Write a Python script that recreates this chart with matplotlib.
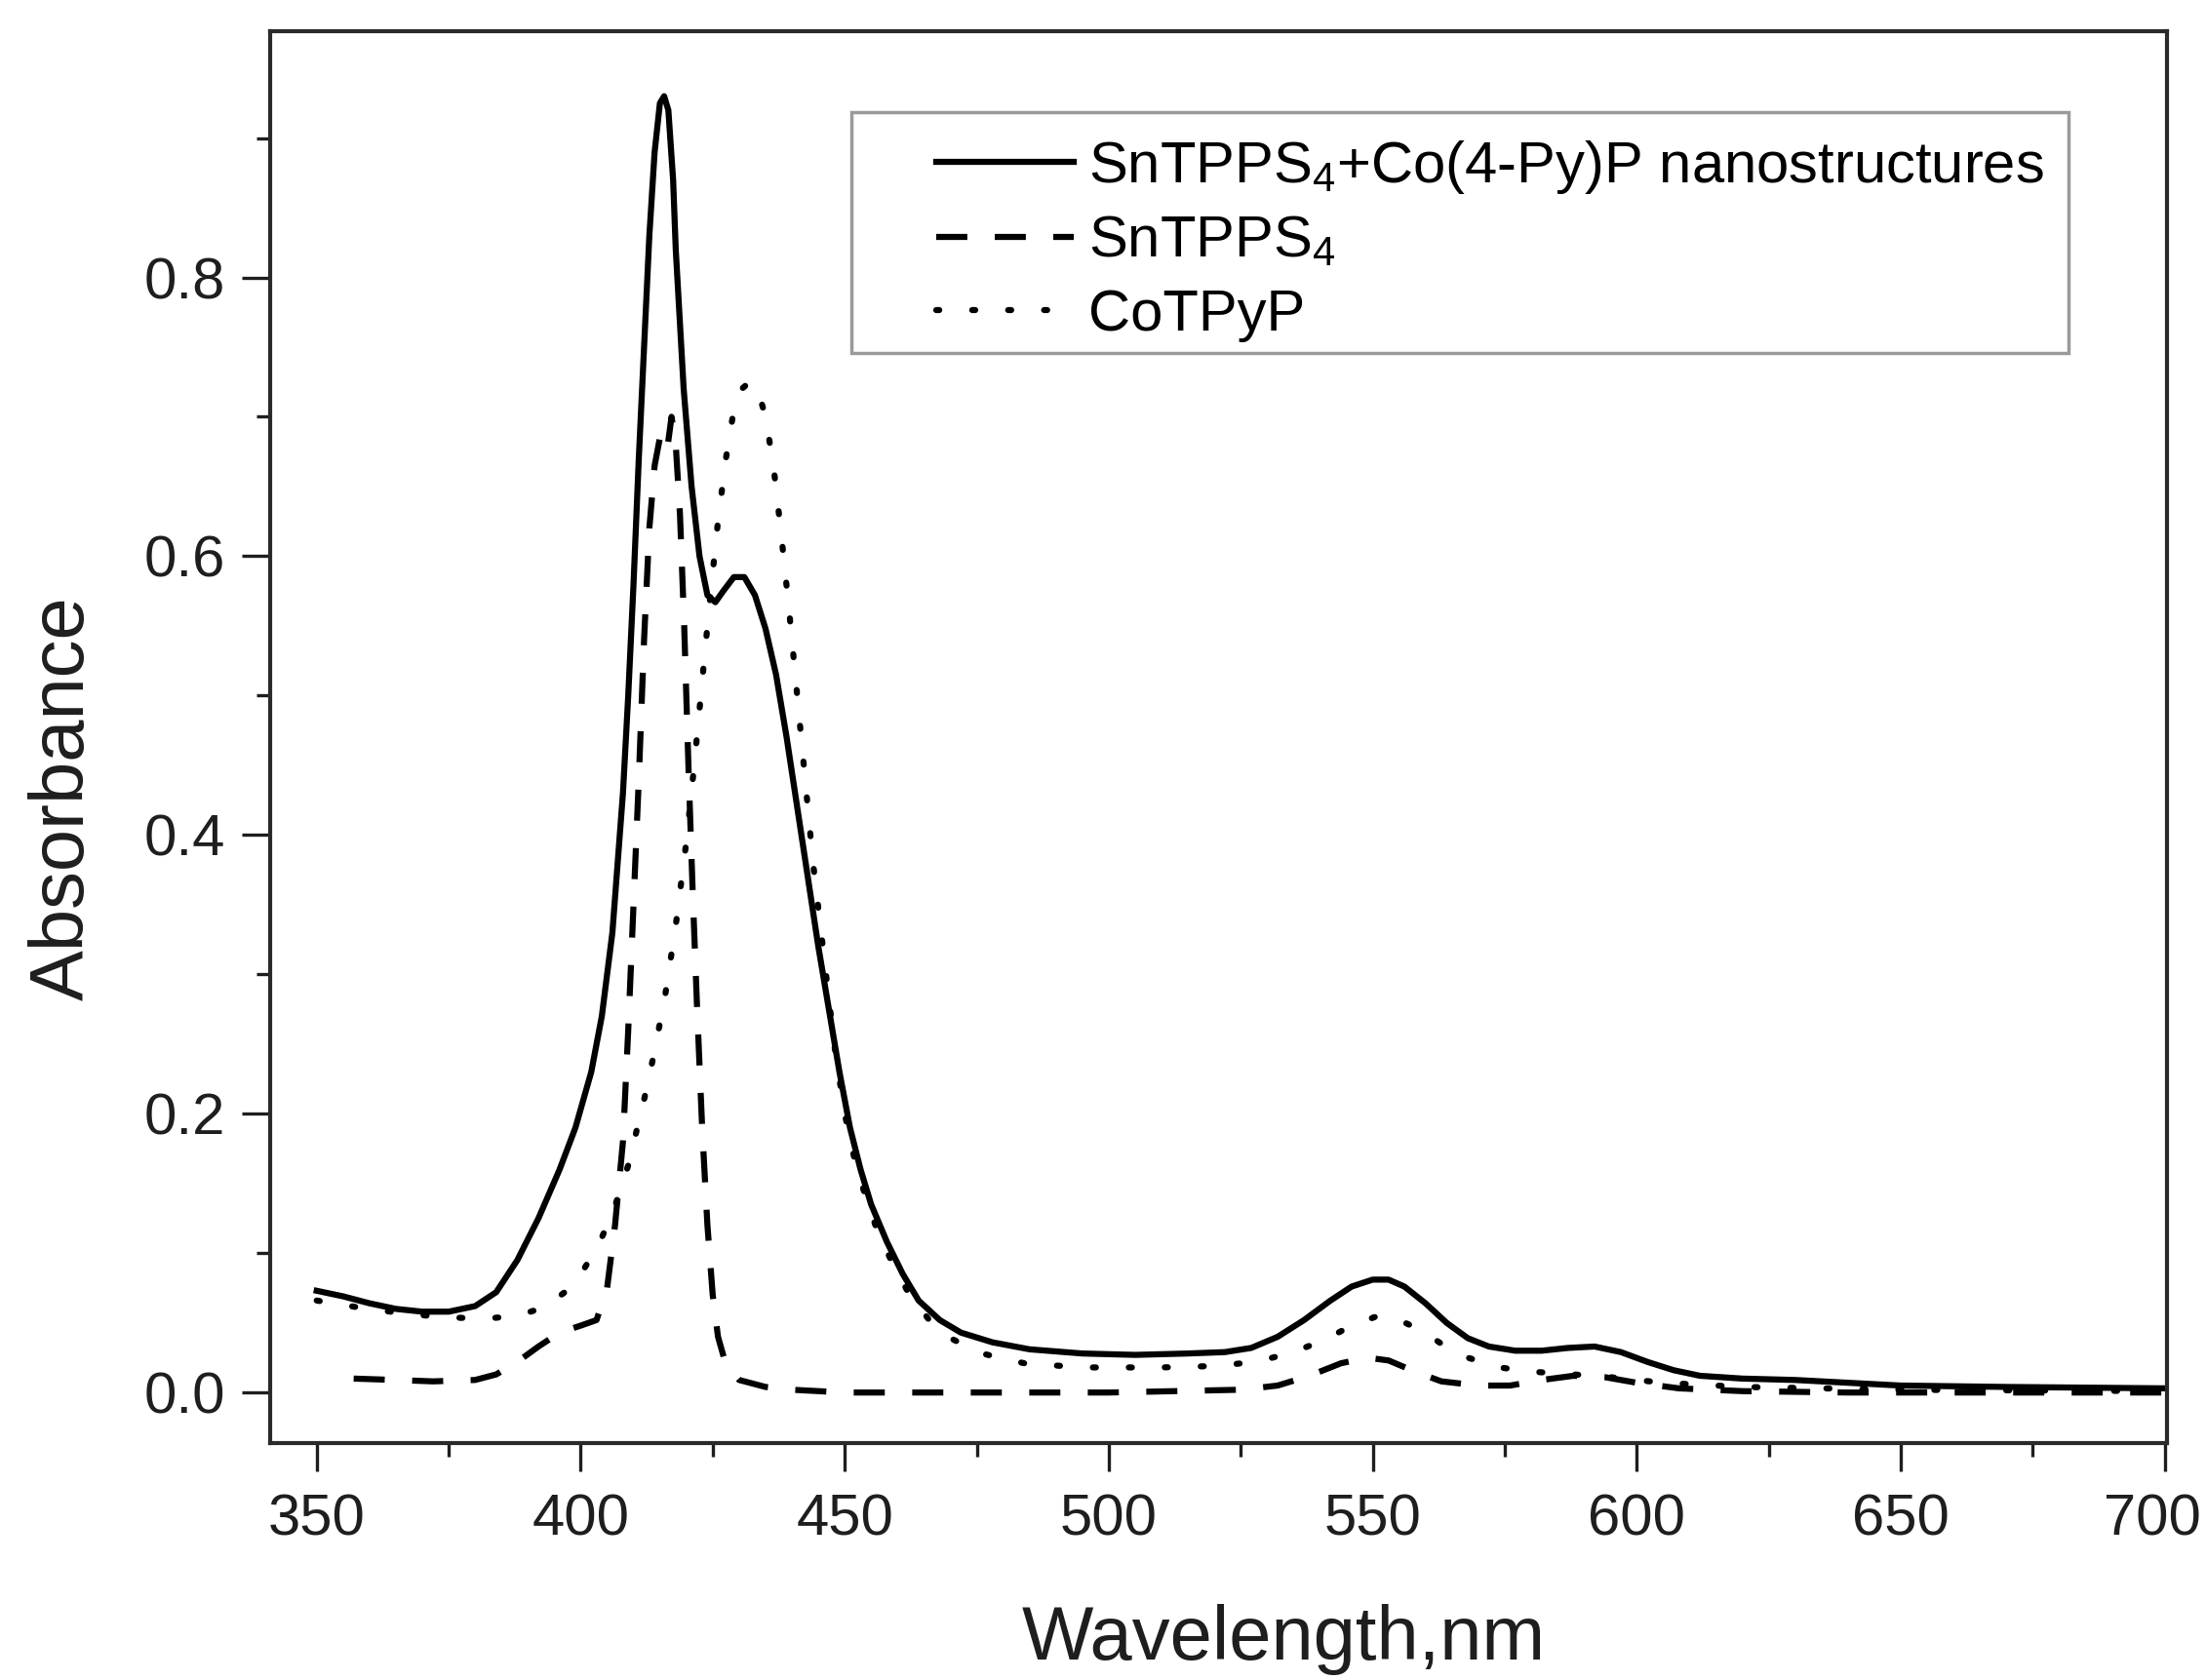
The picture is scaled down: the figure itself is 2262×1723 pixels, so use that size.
import matplotlib
matplotlib.use("Agg")
import matplotlib.pyplot as plt
from matplotlib.patches import Rectangle
from matplotlib.ticker import MultipleLocator, FormatStrFormatter

plt.rcParams["font.family"] = ["Liberation Sans", "DejaVu Sans"]
plt.rcParams["mathtext.fontset"] = "custom"
plt.rcParams["mathtext.rm"] = "Liberation Sans"
plt.rcParams["mathtext.it"] = "Liberation Sans"

# SnTPPS4 + Co(4-Py)P nanostructures (solid)
wl_mix = [350, 355, 360, 365, 370, 375, 380, 384, 388, 392, 396, 399, 402,
          404, 406, 408, 409, 410, 411, 412, 413, 414, 415, 415.8, 416.6,
          417.5, 418, 419.5, 421, 422.5, 424, 425.5, 427, 429, 431, 433, 435,
          437, 439, 441, 443, 445, 447, 449, 451, 453, 455, 458, 461, 464,
          468, 472, 478, 485, 495, 505, 515, 522, 527, 532, 537, 542, 546,
          550, 553, 556, 560, 564, 568, 572, 577, 582, 587, 592, 597, 602,
          607, 612, 620, 630, 640, 650, 670, 700]
abs_mix = [0.073, 0.069, 0.064, 0.060, 0.058, 0.058, 0.062, 0.072, 0.095,
           0.125, 0.160, 0.190, 0.230, 0.270, 0.330, 0.430, 0.500, 0.580,
           0.670, 0.750, 0.830, 0.890, 0.925, 0.930, 0.920, 0.870, 0.820,
           0.720, 0.650, 0.600, 0.572, 0.567, 0.575, 0.585, 0.585, 0.572,
           0.548, 0.515, 0.470, 0.420, 0.370, 0.320, 0.275, 0.230, 0.190,
           0.160, 0.135, 0.108, 0.085, 0.066, 0.052, 0.043, 0.036, 0.031,
           0.028, 0.027, 0.028, 0.029, 0.032, 0.040, 0.052, 0.066, 0.076,
           0.081, 0.081, 0.076, 0.064, 0.050, 0.039, 0.033, 0.030, 0.030,
           0.032, 0.033, 0.029, 0.022, 0.016, 0.012, 0.010, 0.009, 0.007,
           0.005, 0.004, 0.003]

# SnTPPS4 (dashed)
wl_sn = [357, 365, 372, 380, 384, 388, 392, 396, 400, 403, 405, 406.5, 408,
         409, 410, 411, 412, 413, 414, 415, 415.8, 416.5, 417.2, 418, 418.8,
         419.6, 420.4, 421.2, 422, 423, 424, 425, 426, 427.5, 430, 435, 440,
         450, 500, 525, 532, 538, 544, 549, 553, 558, 563, 570, 576, 582,
         588, 594, 600, 608, 620, 640, 700]
abs_sn = [0.010, 0.009, 0.008, 0.009, 0.013, 0.022, 0.033, 0.043, 0.048,
          0.052, 0.075, 0.120, 0.180, 0.260, 0.350, 0.440, 0.540, 0.620,
          0.665, 0.685, 0.690, 0.680, 0.700, 0.680, 0.630, 0.550, 0.450,
          0.360, 0.280, 0.190, 0.120, 0.070, 0.040, 0.020, 0.009, 0.004,
          0.002, 0.000, 0.000, 0.002, 0.005, 0.012, 0.021, 0.025, 0.023,
          0.015, 0.008, 0.005, 0.005, 0.009, 0.012, 0.011, 0.007, 0.003,
          0.001, 0.000, 0.000]

# CoTPyP (dotted)
wl_co = [350, 358, 366, 374, 382, 388, 393, 397, 400, 403, 406, 409, 412,
         414, 416, 418, 420, 421.5, 423, 424.5, 426, 427.5, 429, 430.5, 432,
         433.5, 435, 436.5, 438, 439.5, 441, 442.5, 444, 446, 448, 450, 452,
         454, 456, 459, 462, 466, 470, 476, 484, 495, 510, 520, 528, 535,
         541, 546, 551, 555, 559, 563, 568, 574, 580, 588, 595, 605, 620,
         650, 700]
abs_co = [0.066, 0.061, 0.057, 0.054, 0.053, 0.055, 0.061, 0.072, 0.085,
          0.103, 0.128, 0.163, 0.210, 0.245, 0.285, 0.335, 0.395, 0.450,
          0.510, 0.570, 0.625, 0.670, 0.705, 0.720, 0.725, 0.720, 0.700,
          0.665, 0.615, 0.560, 0.500, 0.440, 0.380, 0.315, 0.250, 0.200,
          0.165, 0.140, 0.118, 0.093, 0.072, 0.052, 0.039, 0.028, 0.021,
          0.018, 0.018, 0.019, 0.022, 0.029, 0.038, 0.048, 0.055, 0.052,
          0.045, 0.035, 0.025, 0.018, 0.015, 0.013, 0.011, 0.007, 0.004,
          0.002, 0.001]

labels = ["SnTPPS$_4$+Co(4-Py)P nanostructures", "SnTPPS$_4$", "CoTPyP"]
x_ticks = [350, 400, 450, 500, 550, 600, 650, 700]
x_ticklabels = ["350", "400", "450", "500", "550", "600", "650", "700"]
text_color = "#1e1e1e"

fig = plt.figure(figsize=(22.62, 17.23), dpi=100)
ax = fig.add_axes([0.1225, 0.141, 0.86, 0.8404])

ax.plot(wl_mix, abs_mix, color="black", lw=4.5, label=labels[0])
ax.plot(wl_sn, abs_sn, color="black", lw=4.5, dashes=(5.1, 4.5),
        label=labels[1])
ax.plot(wl_co, abs_co, color="black", lw=4.5, dashes=(0.5, 5.4),
        dash_capstyle="round", label=labels[2])

ax.set_xlim(341.2, 700.5)
ax.set_ylim(-0.0363, 0.9766)
# the last label is drawn by hand, nudged left so it stays inside the figure
ax.set_xticks(x_ticks, x_ticklabels[:-1] + [""])
ax.annotate(x_ticklabels[-1], xy=(x_ticks[-1], 0),
            xycoords=ax.get_xaxis_transform(), xytext=(-9, -37),
            textcoords="offset points", ha="center", va="top",
            fontsize=43, color=text_color)
ax.xaxis.set_minor_locator(MultipleLocator(25))
ax.yaxis.set_major_locator(MultipleLocator(0.2))
ax.yaxis.set_minor_locator(MultipleLocator(0.1))
ax.yaxis.set_major_formatter(FormatStrFormatter("%.1f"))

ax.tick_params(which="both", direction="out", top=False, right=False,
               width=2.4, labelsize=43, colors=text_color)
ax.tick_params(which="major", length=21)
ax.tick_params(which="minor", length=10)
ax.tick_params(axis="x", which="major", pad=16)
ax.tick_params(axis="y", which="major", pad=12)
for s in ax.spines.values():
    s.set_linewidth(3.0)
    s.set_color("#2a2a2a")

ax.set_xlabel("Wavelength,nm", fontsize=56, color=text_color, va="center")
ax.set_ylabel("Absorbance", fontsize=56, color=text_color, va="center")
ax.xaxis.set_label_coords(0.534, -0.139)
ax.yaxis.set_label_coords(-0.109, 0.457)

# legend frame drawn separately so the inner padding matches
ax.add_patch(Rectangle((0.3064, 0.7721), 0.6416, 0.1706,
                       transform=ax.transAxes, fill=False,
                       edgecolor="#9a9a9a", lw=2.5, zorder=5))
leg = ax.legend(loc="upper left", bbox_to_anchor=(0.3512, 0.924),
                fontsize=43, frameon=False, handlelength=2.35,
                handletextpad=0.25, borderpad=0.0, labelspacing=0.33,
                borderaxespad=0)

fig.savefig("out.png", dpi=100)
